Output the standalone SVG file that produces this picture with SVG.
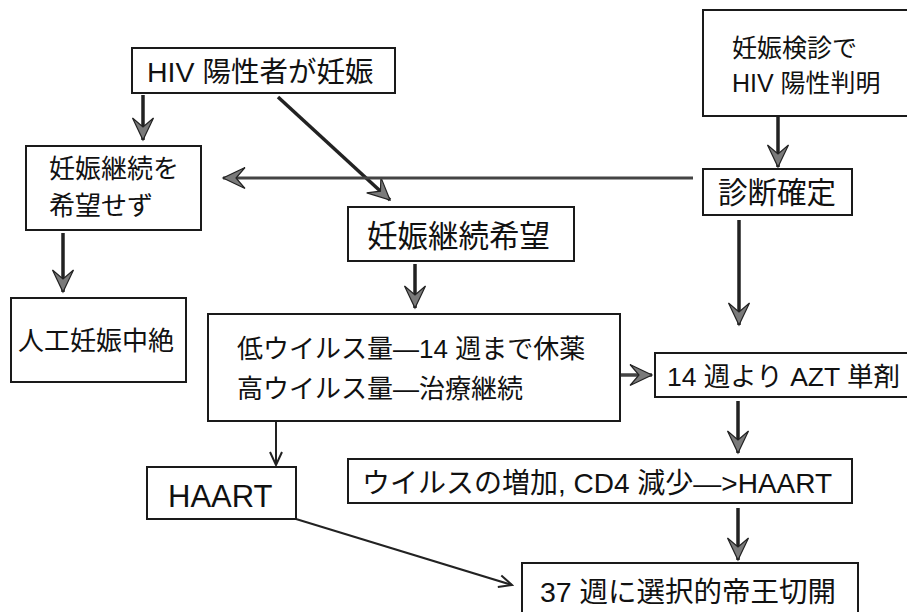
<svg xmlns="http://www.w3.org/2000/svg" width="907" height="612" viewBox="0 0 907 612">
<style>
.box{fill:#fff;stroke:#1a1a1a;stroke-width:2}
.t{font-family:"Liberation Sans","Noto Sans CJK JP",sans-serif;fill:#111}
.thick{stroke:#222;stroke-width:3.5;fill:none;marker-end:url(#big)}
.thin{stroke:#222;stroke-width:2;fill:none;marker-end:url(#small)}
</style>
<defs>
<marker id="big" markerUnits="userSpaceOnUse" viewBox="-23 -12 25 24" refX="0" refY="0" markerWidth="25" markerHeight="24" orient="auto">
<path d="M0,0 L-22,-10.5 L-13,0 L-22,10.5 Z" fill="#7a7a7a" stroke="#222" stroke-width="1.2" stroke-linejoin="miter"/>
</marker>
<marker id="small" markerUnits="userSpaceOnUse" viewBox="-16 -9 18 18" refX="0" refY="0" markerWidth="18" markerHeight="18" orient="auto">
<path d="M-13,-6 L0,0 L-13,6" fill="none" stroke="#222" stroke-width="2"/>
</marker>
</defs>
<rect width="907" height="612" fill="#fff"/>
<g id="connectors">
<line class="thick" x1="143" y1="95" x2="143" y2="140"/>
<line class="thick" x1="278" y1="97" x2="390" y2="200"/>
<line class="thick" x1="693" y1="178" x2="223" y2="178" style="stroke:#444;stroke-width:3"/>
<line class="thick" x1="778" y1="117" x2="778" y2="167"/>
<line class="thick" x1="63" y1="233" x2="63" y2="292"/>
<line class="thick" x1="415" y1="264" x2="415" y2="308"/>
<line class="thick" x1="739" y1="220" x2="739" y2="325"/>
<line class="thick" x1="621" y1="375" x2="652" y2="375" style="stroke:#444"/>
<line class="thick" x1="738" y1="401" x2="738" y2="453"/>
<line class="thick" x1="738" y1="508" x2="738" y2="560"/>
<line class="thin" x1="276" y1="422" x2="276" y2="465"/>
<line class="thin" x1="296" y1="519" x2="512" y2="585"/>
</g>
<g id="n_hiv">
<rect class="box" x="132" y="48" width="263" height="45"/>
<text class="t" x="147" y="82" font-size="28.5">HIV 陽性者が妊娠</text>
</g>
<g id="n_kenshin">
<rect class="box" x="703" y="10" width="210" height="106"/>
<text class="t" x="732" y="57" font-size="25">妊娠検診で</text>
<text class="t" x="732" y="92" font-size="25">HIV 陽性判明</text>
</g>
<g id="n_nozomazu">
<rect class="box" x="26" y="146" width="175" height="84"/>
<text class="t" x="49" y="178" font-size="26">妊娠継続を</text>
<text class="t" x="49" y="215" font-size="26">希望せず</text>
</g>
<g id="n_kakutei">
<rect class="box" x="703" y="169" width="149" height="46"/>
<text class="t" x="718" y="203" font-size="29.5">診断確定</text>
</g>
<g id="n_kibou">
<rect class="box" x="348" y="207" width="226" height="54"/>
<text class="t" x="367" y="247" font-size="30.5">妊娠継続希望</text>
</g>
<g id="n_chuzetsu">
<rect class="box" x="11" y="298" width="175" height="84"/>
<text class="t" x="18" y="350" font-size="26">人工妊娠中絶</text>
</g>
<g id="n_virus">
<rect class="box" x="208" y="314" width="412" height="107"/>
<text class="t" x="237" y="358" font-size="26">低ウイルス量—14 週まで休薬</text>
<text class="t" x="237" y="398" font-size="26">高ウイルス量—治療継続</text>
</g>
<g id="n_azt">
<rect class="box" x="655" y="353" width="260" height="44"/>
<text class="t" x="667" y="386" font-size="26.5">14 週より AZT 単剤</text>
</g>
<g id="n_haart2">
<rect class="box" x="348" y="459" width="504" height="44"/>
<text class="t" x="362" y="493" font-size="28">ウイルスの増加, CD4 減少—&gt;HAART</text>
</g>
<g id="n_haart">
<rect class="box" x="147" y="467" width="149" height="52"/>
<text class="t" x="168" y="507" font-size="31">HAART</text>
</g>
<g id="n_37">
<rect class="box" x="522" y="563" width="336" height="60"/>
<text class="t" x="540" y="602" font-size="28.5">37 週に選択的帝王切開</text>
</g>
</svg>
